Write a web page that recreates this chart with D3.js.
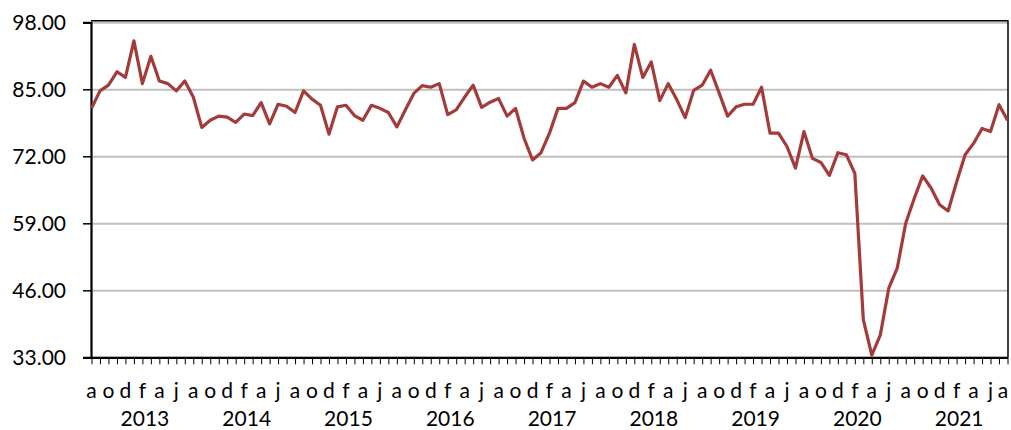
<!DOCTYPE html>
<html>
<head>
<meta charset="utf-8">
<script src="https://cdn.jsdelivr.net/npm/d3@7.9.0/dist/d3.min.js"></script>
<style>
  html, body { margin: 0; padding: 0; background: #fff; }
  svg text { font-family: Lato, "Open Sans", sans-serif; fill: #000; }
</style>
</head>
<body>
<div id="chart"></div>
<script>
// monthly series, Aug 2012 .. Aug 2021
const startYear = 2012;
const startMonth = 7; // 0-based, August
const values = [
  81.3, 84.7, 85.8, 88.4, 87.3,
  94.4, 86.1, 91.4, 86.6, 86.1, 84.7, 86.6, 83.5, 77.6, 79.0, 79.8, 79.6,
  78.6, 80.2, 79.9, 82.4, 78.3, 82.1, 81.7, 80.5, 84.7, 83.1, 81.9, 76.3,
  81.6, 81.9, 79.9, 79.0, 81.9, 81.3, 80.5, 77.7, 81.0, 84.2, 85.7, 85.4,
  86.1, 80.1, 81.0, 83.5, 85.8, 81.5, 82.5, 83.2, 79.8, 81.3, 75.5, 71.3,
  72.7, 76.5, 81.3, 81.3, 82.4, 86.6, 85.4, 86.1, 85.4, 87.7, 84.3, 93.7,
  87.3, 90.3, 82.8, 86.1, 83.0, 79.5, 84.8, 85.8, 88.7, 84.3, 79.8, 81.6,
  82.1, 82.1, 85.4, 76.5, 76.5, 73.9, 69.7, 76.8, 71.6, 70.8, 68.3, 72.7,
  72.3, 68.7, 40.3, 33.4, 37.3, 46.4, 50.3, 59.0, 63.8, 68.2, 65.8, 62.6,
  61.4, 67.0, 72.3, 74.5, 77.4, 76.8, 82.0, 79.0
];
const monthLetters = ['j', 'f', 'm', 'a', 'm', 'j', 'j', 'a', 's', 'o', 'n', 'd'];
const years = [2013, 2014, 2015, 2016, 2017, 2018, 2019, 2020, 2021];
const yTicks = [33, 46, 59, 72, 85, 98];

const width = 1011;
const height = 430;
const plot = { left: 91, right: 1008, top: 22.3, bottom: 357.3 };

const svg = d3.select('#chart')
  .append('svg')
  .attr('width', width)
  .attr('height', height);

const x = d3.scaleLinear()
  .domain([0, values.length - 1])
  .range([plot.left + 0.5, plot.right - 0.5]);

const y = d3.scaleLinear()
  .domain([33, 98])
  .range([plot.bottom, plot.top]);

// gridlines
svg.append('g')
  .attr('transform', `translate(${plot.left},0)`)
  .call(d3.axisLeft(y).tickValues(yTicks).tickFormat('').tickSize(-(plot.right - plot.left)))
  .call(g => g.select('.domain').remove())
  .call(g => g.selectAll('line').attr('stroke', '#bfbfbf').attr('stroke-width', 2));

// frame top / right
svg.append('line')
  .attr('x1', plot.left).attr('x2', plot.right)
  .attr('y1', plot.top - 1.5).attr('y2', plot.top - 1.5)
  .attr('stroke', '#000').attr('stroke-width', 1.5);
svg.append('line')
  .attr('x1', plot.right).attr('x2', plot.right)
  .attr('y1', plot.top - 2).attr('y2', plot.bottom)
  .attr('stroke', '#000').attr('stroke-width', 1.5);

// y axis
svg.append('g')
  .attr('transform', `translate(${plot.left},0)`)
  .call(d3.axisLeft(y).tickValues(yTicks).tickFormat(d3.format('.2f')).tickSize(8).tickPadding(17))
  .call(g => g.select('.domain').attr('stroke', '#000').attr('stroke-width', 2.2))
  .call(g => g.selectAll('.tick line').attr('stroke', '#000').attr('stroke-width', 1.5))
  .call(g => g.selectAll('.tick text').attr('font-size', 21).attr('dy', '0.36em'));

// x axis: a tick for every month
svg.append('g')
  .attr('transform', `translate(0,${plot.bottom})`)
  .call(d3.axisBottom(x).tickValues(d3.range(values.length)).tickFormat('').tickSize(7).tickSizeOuter(0))
  .call(g => g.select('.domain').attr('stroke', '#000').attr('stroke-width', 2.2))
  .call(g => g.selectAll('.tick line').attr('stroke', '#000').attr('stroke-width', 1));

// month letters every second month
const labelIdx = d3.range(0, values.length, 2);
svg.append('g')
  .selectAll('text')
  .data(labelIdx)
  .join('text')
  .attr('x', i => Math.min(x(i), width - 8))
  .attr('y', 398)
  .attr('text-anchor', 'middle')
  .attr('font-size', 21)
  .text(i => monthLetters[(startMonth + i) % 12]);

// year labels
svg.append('g')
  .selectAll('text')
  .data(years)
  .join('text')
  .attr('x', yr => x((yr - startYear) * 12 - startMonth + 1.3))
  .attr('y', 426)
  .attr('text-anchor', 'middle')
  .attr('font-size', 21)
  .text(yr => yr);

// series
const line = d3.line()
  .x((d, i) => x(i))
  .y(d => y(d));

svg.append('path')
  .datum(values)
  .attr('fill', 'none')
  .attr('stroke', '#a33b3b')
  .attr('stroke-width', 3.2)
  .attr('stroke-linejoin', 'round')
  .attr('d', line);
</script>
</body>
</html>
